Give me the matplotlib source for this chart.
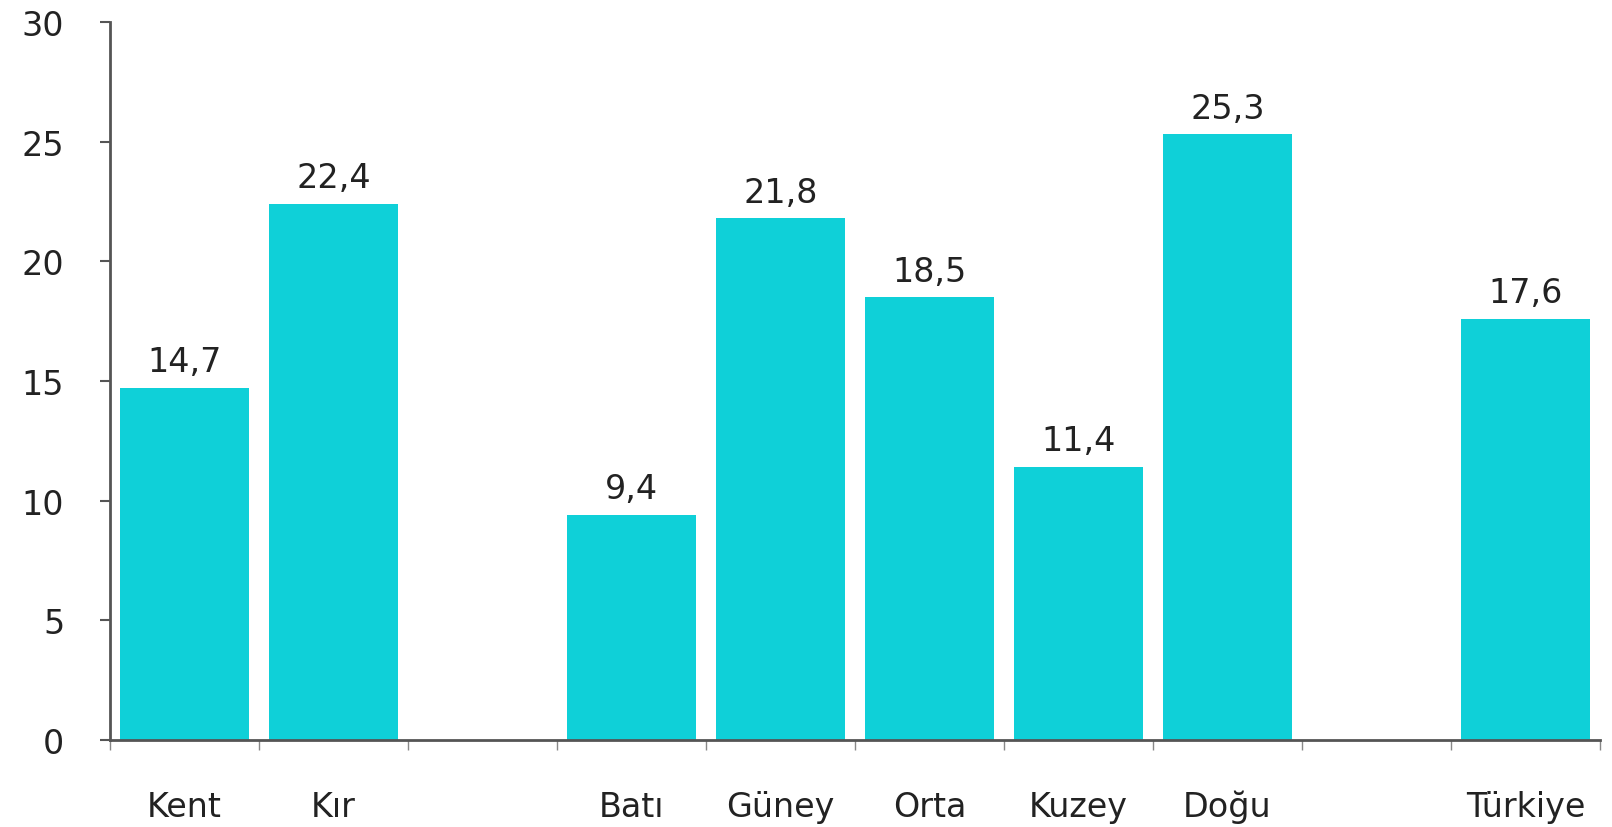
import numpy as np
import matplotlib
matplotlib.use("Agg")
import matplotlib.pyplot as plt

categories = ["Kent", "Kır", "", "Batı", "Güney", "Orta", "Kuzey", "Doğu", "", "Türkiye"]
values = [14.7, 22.4, None, 9.4, 21.8, 18.5, 11.4, 25.3, None, 17.6]
yticks = [0, 5, 10, 15, 20, 25, 30]

bar_color = "#0fd0d8"
text_color = "#222222"
axis_color = "#555555"
fs = 24

fig = plt.figure(figsize=(16.12, 8.28), dpi=100)
ax = fig.add_axes([110 / 1612, 1 - 741 / 828, 1490 / 1612, (741 - 23) / 828])

x = np.arange(len(categories))
for xi, v in zip(x, values):
    if v is None:
        continue
    ax.bar(xi, v, width=0.86, color=bar_color, zorder=2)
    ax.annotate(f"{v:.1f}".replace(".", ","), (xi, v), xytext=(0, 7),
                textcoords="offset points", ha="center", va="bottom",
                fontsize=fs, color=text_color)

ax.set_xlim(-0.5, len(categories) - 0.5)
ax.set_ylim(0, 30)
ax.set_yticks(yticks)
ax.set_yticklabels([str(t) for t in yticks], fontsize=fs, color=text_color)

# boundaries get tick marks, labels sit in the middle of each slot
ax.set_xticks(np.arange(len(categories) + 1) - 0.5)
ax.set_xticklabels([])
ax.set_xticks(x, minor=True)
ax.set_xticklabels(categories, minor=True, fontsize=fs, color=text_color)
ax.tick_params(axis="x", which="minor", length=0, pad=36)
ax.tick_params(axis="x", which="major", length=7, width=1, color="#888888", direction="out")
ax.tick_params(axis="y", length=7, width=1.5, color=axis_color, pad=26)

for s in ["top", "right"]:
    ax.spines[s].set_visible(False)
for s in ["left", "bottom"]:
    ax.spines[s].set_color(axis_color)
    ax.spines[s].set_linewidth(2)

fig.savefig("out.png", dpi=100, facecolor="white")
